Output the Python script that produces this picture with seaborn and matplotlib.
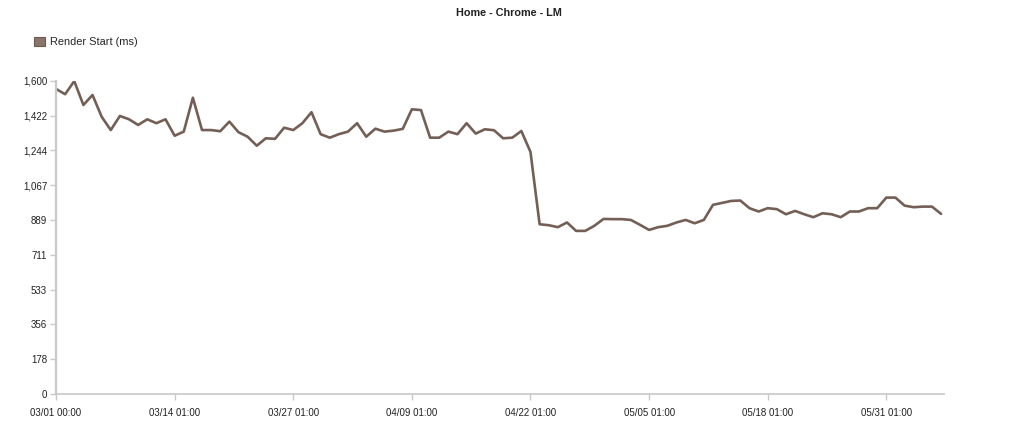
import matplotlib
matplotlib.use("Agg")
import matplotlib.pyplot as plt
import seaborn as sns
import pandas as pd
import numpy as np
from matplotlib.patches import Patch

# ---- data ----
render_start = [
    1558, 1531, 1598, 1476, 1527, 1416, 1348, 1420, 1403, 1374,
    1403, 1383, 1403, 1319, 1340, 1513, 1348, 1348, 1342, 1391,
    1337, 1314, 1268, 1306, 1303, 1360, 1348, 1383, 1439, 1327,
    1309, 1327, 1340, 1383, 1314, 1355, 1340, 1345, 1354, 1454,
    1450, 1309, 1309, 1340, 1327, 1383, 1330, 1352, 1347, 1306,
    1309, 1343, 1236, 867, 862, 852, 876, 833, 833, 859,
    894, 893, 893, 889, 864, 838, 852, 859, 876, 889,
    872, 889, 966, 976, 986, 988, 949, 932, 949, 944,
    918, 935, 918, 903, 923, 918, 903, 932, 932, 949,
    949, 1003, 1003, 962, 954, 957, 957, 920,
]
day_index = list(range(len(render_start)))
x_tick_days = [0, 13, 26, 39, 52, 65, 78, 91]
x_tick_labels = ["03/01 00:00", "03/14 01:00", "03/27 01:00", "04/09 01:00",
                 "04/22 01:00", "05/05 01:00", "05/18 01:00", "05/31 01:00"]
y_tick_labels = ["0", "178", "356", "533", "711", "889", "1,067", "1,244", "1,422", "1,600"]
series_name = "Render Start (ms)"
title = "Home - Chrome - LM"

df = pd.DataFrame({"day": day_index, "value": render_start})

sns.set_style("white")
plt.rcParams["font.family"] = ["Liberation Sans", "DejaVu Sans"]

fig = plt.figure(figsize=(10.24, 4.42), dpi=100)
ax = fig.add_axes([0.0547, 0.1086, 0.867, 0.7088])

line_color = "#735f55"
sns.lineplot(data=df, x="day", y="value", ax=ax, color=line_color,
             linewidth=1.9, label=series_name, legend=False)

ax.set_xlim(0, 97.3)
ax.set_ylim(0, 1600)
ax.set_xticks(x_tick_days)
ax.set_xticklabels(x_tick_labels)
ax.set_yticks([1600 * k / 9 for k in range(10)])
ax.set_yticklabels(y_tick_labels)
ax.set_xlabel("")
ax.set_ylabel("")

for s in ["top", "right"]:
    ax.spines[s].set_visible(False)
ax.spines["left"].set_color("#c8c8c8")
ax.spines["left"].set_linewidth(1.6)
ax.spines["bottom"].set_color("#c8c8c8")
ax.spines["bottom"].set_linewidth(1.2)
ax.tick_params(axis="both", which="major", direction="out", length=4.2,
               width=1, color="#c8c8c8", labelsize=7, labelcolor="#222222")
ax.tick_params(axis="y", left=True, pad=2.2)
ax.tick_params(axis="x", bottom=True, pad=6)

fig.text(0.497, 0.97, title, ha="center", va="center", fontsize=7.8,
         fontweight="bold", color="#222222")

# legend
handles = [Patch(facecolor="#8a756b", edgecolor="#6d5a50", linewidth=0.8)]
fig.legend(handles, [series_name], loc="center left",
           bbox_to_anchor=(0.033, 0.905), frameon=False, fontsize=7.9,
           handlelength=1.0, handleheight=1.0, handletextpad=0.45,
           borderaxespad=0, borderpad=0)

fig.savefig("out.png", dpi=100, facecolor="white")
